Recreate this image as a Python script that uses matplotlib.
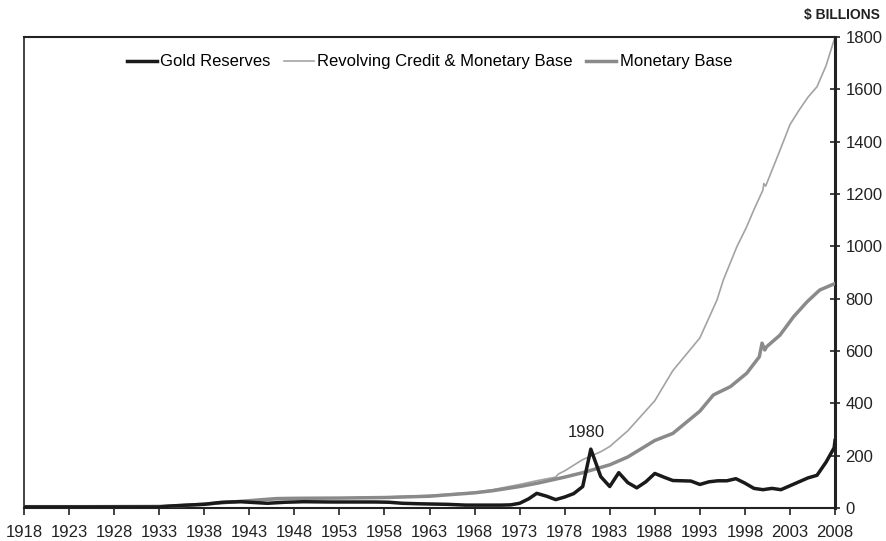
import numpy as np
import matplotlib.pyplot as plt

plt.rcParams["font.family"] = ["Liberation Sans", "DejaVu Sans"]

# Revolving credit & monetary base ($ billions)
rev_years = [1918, 1925, 1933, 1936, 1940, 1945, 1948, 1953, 1958, 1963, 1968,
             1970, 1973, 1975, 1977, 1977.3, 1978, 1980, 1982, 1983, 1985, 1988,
             1990, 1993, 1994.9, 1995.6, 1997.1, 1998.2, 1999, 2000, 2000.1,
             2000.3, 2001.9, 2003, 2004, 2005, 2006, 2007, 2008]
rev_vals = [5, 5, 6, 10, 18, 30, 35, 38, 42, 48, 60,
            70, 90, 105, 118, 130, 142, 185, 215, 235, 295, 410,
            525, 650, 795, 871, 998, 1075, 1140, 1215, 1240,
            1230, 1368, 1465, 1520, 1570, 1610, 1690, 1800]

# Monetary base
mb_years = [1918, 1925, 1933, 1936, 1940, 1943, 1946, 1948, 1953, 1958, 1963,
            1968, 1970, 1973, 1975, 1978, 1980, 1983, 1985, 1988, 1990, 1993,
            1994.5, 1996.4, 1998.2, 1999.6, 1999.9, 2000.2, 2000.4, 2001.9,
            2003.4, 2004.9, 2006.3, 2008]
mb_vals = [5, 5, 6, 10, 20, 28, 36, 37, 38, 40, 45,
           58, 66, 82, 95, 118, 135, 165, 195, 258, 285, 370,
           432, 464, 515, 578, 630, 604, 616, 661,
           731, 788, 833, 858]

# Gold reserves
gold_years = [1918, 1933, 1934, 1936, 1938, 1940, 1942, 1944, 1945, 1947, 1949,
              1952, 1957, 1958.5, 1960, 1962, 1965, 1967, 1971, 1972, 1973,
              1974, 1974.9, 1976, 1977, 1978, 1979, 1980, 1980.9, 1982, 1983,
              1984, 1985, 1986, 1987, 1988, 1989, 1990, 1992, 1993, 1994, 1995,
              1996, 1997, 1998, 1999, 2000, 2001, 2002, 2003, 2004, 2005, 2006,
              2007, 2007.9, 2008]
gold_vals = [4, 4, 7, 11, 14, 22, 24, 20, 18, 22, 24,
             23, 23, 22, 18, 16, 14, 11, 11, 12, 18,
             35, 56, 45, 32, 42, 55, 82, 225, 120, 82,
             135, 97, 77, 100, 132, 118, 105, 103, 90, 100, 104,
             104, 112, 95, 75, 70, 75, 70, 85, 100, 115, 125,
             175, 230, 258]

xticks = list(range(1918, 2009, 5))
yticks = list(range(0, 1801, 200))

fig = plt.figure(figsize=(8.87, 5.41), dpi=100)
ax = fig.add_axes([0.0271, 0.061, 0.9143, 0.8706])

ax.plot(rev_years, rev_vals, color="#a3a3a3", lw=1.2,
        label="Revolving Credit & Monetary Base", zorder=2)
ax.plot(mb_years, mb_vals, color="#8a8a8a", lw=2.5, label="Monetary Base", zorder=3)
ax.plot(gold_years, gold_vals, color="#1a1a1a", lw=2.5, label="Gold Reserves", zorder=4)

ax.set_xlim(1918, 2008)
ax.set_ylim(0, 1800)
ax.set_xticks(xticks)
ax.set_yticks(yticks)
ax.yaxis.tick_right()
ax.tick_params(axis="y", direction="inout", length=7, width=1.2, labelsize=12,
               colors="#222222", pad=4)
ax.tick_params(axis="x", direction="out", length=5, width=1.2, labelsize=12,
               colors="#222222", pad=7)

for side, w in [("left", 1.2), ("top", 1.5), ("right", 2.2), ("bottom", 1.5)]:
    ax.spines[side].set_linewidth(w)
    ax.spines[side].set_color("#222222")

handles, labels = ax.get_legend_handles_labels()
order = [2, 0, 1]
ax.legend([handles[i] for i in order], [labels[i] for i in order],
          loc="upper center", bbox_to_anchor=(0.5, 0.995), ncol=3, frameon=False,
          fontsize=12, handlelength=1.8, handletextpad=0.2, columnspacing=0.8)

ax.annotate("1980", xy=(1980.9, 225), xytext=(1980.4, 290), ha="center",
            va="center", fontsize=12, color="#222222")
fig.text(0.992, 0.972, "$ BILLIONS", ha="right", va="center", fontsize=10,
         fontweight="bold", color="#222222")

fig.savefig("out.png", dpi=100)
